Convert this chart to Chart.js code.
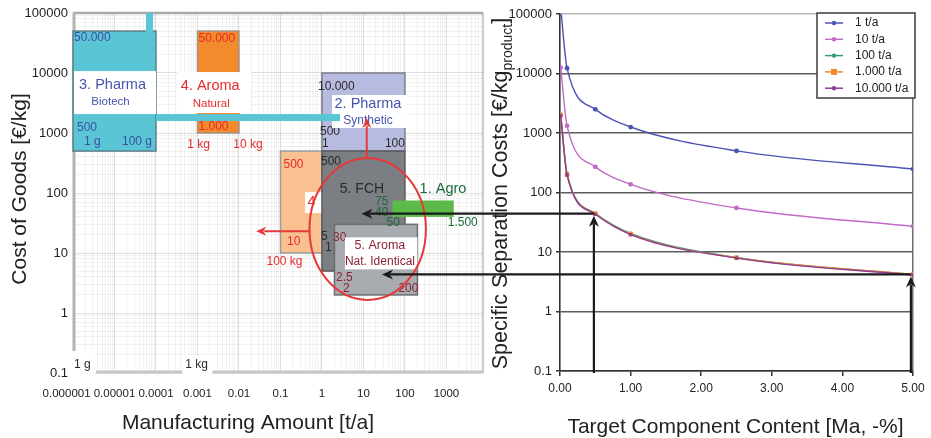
<!DOCTYPE html>
<html>
<head>
<meta charset="utf-8">
<title>Cost of Goods and Specific Separation Costs</title>
<script src="https://cdn.jsdelivr.net/npm/chart.js@4.4.1/dist/chart.umd.min.js"></script>
<style>
  html, body { margin: 0; padding: 0; background: #ffffff; }
  #stage { position: relative; width: 931px; height: 438px; overflow: hidden; }
  #stage canvas { position: absolute; left: 0; top: 0; }
</style>
</head>
<body>
<div id="stage">
  <canvas id="costOfGoods" width="931" height="438"></canvas>
  <canvas id="separation" width="931" height="438"></canvas>
</div>
<script>
// ---------- Left panel: market segments (cost of goods vs. manufacturing amount) ----------
const amountTicks = [1e-6, 1e-5, 1e-4, 1e-3, 1e-2, 1e-1, 1, 10, 100, 1000];
const amountTickLabels = ['0.000001', '0.00001', '0.0001', '0.001', '0.01', '0.1', '1', '10', '100', '1000'];
const costTicks = [0.1, 1, 10, 100, 1000, 10000, 100000];
const costTickLabels = ['0.1', '1', '10', '100', '1000', '10000', '100000'];

// segment order: 3. Pharma Biotech, 4. Aroma Natural, 2. Pharma Synthetic,
// 4. Aroma Natural (100 kg scale), 5. FCH, 5. Aroma Nat. Identical, 1. Agro
const segmentAmountMin = [1e-6, 1e-3, 1, 0.1, 1, 2, 50];
const segmentAmountMax = [1e-4, 1e-2, 100, 1, 100, 200, 1500];
const segmentCostMin = [500, 1000, 500, 10, 5, 2, 40];
const segmentCostMax = [50000, 50000, 10000, 500, 500, 30, 75];

// window of interest around FCH and the two shifts drawn out of it
const focusAmount = [0.5, 320];
const focusCost = [1.65, 380];
const upShiftAmount = [12, 12];
const upShiftCost = [380, 1780];
const leftShiftAmount = [0.52, 0.026];
const leftShiftCost = [23, 23];

// ---------- Right panel: specific separation costs vs. target component content ----------
const contentTicks = [0, 1, 2, 3, 4, 5];
const contentPct = [0.01, 0.1, 0.5, 1, 2.5, 5];
const capacityLabels = ['1 t/a', '10 t/a', '100 t/a', '1.000 t/a', '10.000 t/a'];
const costAt1 = [125000, 12300, 2500, 1260, 500, 248];
const costAt10 = [12600, 1320, 270, 137, 55, 27];
const costAt100 = [2050, 206, 44.5, 20.5, 8.1, 4.2];
const costAt1000 = [2000, 200, 44, 20, 8, 4.2];
const costAt10000 = [1950, 196, 43, 19.6, 7.9, 4.1];

// read-off lines from the cost curves into the segment map
const readContent = [0.48, 4.97];
const readCost = [44, 4.2];
const readAmount = [9, 28];

const FONT = '"Liberation Sans", Arial, Helvetica, sans-serif';
Chart.defaults.font.family = FONT;
Chart.defaults.color = '#222';

function logGrid(lo, hi) {
  const out = [];
  for (let e = Math.floor(Math.log10(lo)); e <= Math.ceil(Math.log10(hi)); e++) {
    for (let m = 1; m <= 9; m++) {
      const v = Number((m * Math.pow(10, e)).toPrecision(6));
      if (v >= lo * 0.9999 && v <= hi * 1.0001) out.push(v);
    }
  }
  return out;
}
const isDecade = v => Math.abs(Math.log10(v) - Math.round(Math.log10(v))) < 1e-6;
const labelFor = (ticks, labels, v) => {
  const i = ticks.findIndex(t => Math.abs(t - v) <= t * 1e-6);
  return i < 0 ? '' : labels[i];
};

function text(ctx, s, x, y, size, color, align, baseline) {
  ctx.font = size + 'px ' + FONT;
  ctx.fillStyle = color;
  ctx.textAlign = align || 'left';
  ctx.textBaseline = baseline || 'middle';
  ctx.fillText(s, x, y);
}
function fillRect(ctx, x, y, w, h, fill, stroke, lw) {
  ctx.fillStyle = fill;
  ctx.fillRect(x, y, w, h);
  if (stroke) {
    ctx.strokeStyle = stroke;
    ctx.lineWidth = lw || 1.5;
    ctx.strokeRect(x, y, w, h);
  }
}
function segLine(ctx, x1, y1, x2, y2, color, lw) {
  ctx.beginPath();
  ctx.moveTo(x1, y1);
  ctx.lineTo(x2, y2);
  ctx.strokeStyle = color;
  ctx.lineWidth = lw;
  ctx.stroke();
}
// arrow head with its tip at (x, y); dir: 'left' or 'up'
function head(ctx, x, y, dir, color, len, half) {
  ctx.beginPath();
  if (dir === 'left') {
    ctx.moveTo(x, y); ctx.lineTo(x + len, y - half); ctx.lineTo(x + len * 0.7, y); ctx.lineTo(x + len, y + half);
  } else {
    ctx.moveTo(x, y); ctx.lineTo(x - half, y + len); ctx.lineTo(x, y + len * 0.7); ctx.lineTo(x + half, y + len);
  }
  ctx.closePath();
  ctx.fillStyle = color;
  ctx.fill();
}

const BLUE_T = '#3f4fa6', RED_T = '#e8292b', DARK_T = '#2a2a2a', WINE_T = '#8a2234', GREEN_T = '#1c6a3a';

const segmentsPlugin = {
  id: 'segments',
  afterDraw(chart) {
    const { ctx, chartArea: ca, scales: { x, y } } = chart;
    const rect = i => ({
      l: x.getPixelForValue(segmentAmountMin[i]),
      r: x.getPixelForValue(segmentAmountMax[i]),
      t: y.getPixelForValue(segmentCostMax[i]),
      b: y.getPixelForValue(segmentCostMin[i])
    });
    const box = (R, fill, stroke) => fillRect(ctx, R.l, R.t, R.r - R.l, R.b - R.t, fill, stroke, 1.5);
    ctx.save();

    // frame of the segment map
    segLine(ctx, ca.left, ca.top, ca.right, ca.top, '#a9a9a9', 2.5);
    segLine(ctx, ca.right, ca.top, ca.right, ca.bottom, '#9a9a9a', 1);
    segLine(ctx, ca.left + 1, ca.top, ca.left + 1, ca.bottom - 22, '#b3b3b3', 3);
    const x1g = x.getPixelForValue(1e-6), x1kg = x.getPixelForValue(1e-3);
    segLine(ctx, x1g + 23, ca.bottom - 1, x1kg - 15, ca.bottom - 1, '#c6c6c6', 3);
    segLine(ctx, x1kg + 15, ca.bottom - 1, ca.right, ca.bottom - 1, '#c6c6c6', 3);
    fillRect(ctx, x1g - 5, ca.bottom - 22, 27, 28, '#ffffff');
    fillRect(ctx, x1kg - 15, ca.bottom - 18, 29, 24, '#ffffff');
    text(ctx, '1 g', x1g + 1, ca.bottom - 8, 12, DARK_T);
    text(ctx, '1 kg', x1kg - 1, ca.bottom - 8, 12, DARK_T, 'center');

    // 2. Pharma Synthetic
    const B2 = rect(2);
    box(B2, '#b8bbe0', '#7d7e86');
    text(ctx, '10.000', B2.l - 4, B2.t + 14, 12, DARK_T);
    text(ctx, '500', B2.l - 2, B2.b - 19, 12, DARK_T);
    text(ctx, '1', B2.l, B2.b - 7, 12, DARK_T);
    text(ctx, '100', B2.r, B2.b - 7, 12, DARK_T, 'right');

    // 3. Pharma Biotech
    const B0 = rect(0);
    box(B0, '#59c5d5', '#5d7f87');
    fillRect(ctx, B0.r - 10, ca.top, 7, B0.t - ca.top + 1, '#59c5d5');
    text(ctx, '50.000', B0.l + 1, B0.t + 7, 12, BLUE_T);
    text(ctx, '500', B0.l + 4, B0.b - 23, 12, BLUE_T);
    text(ctx, '1 g', B0.l + 11, B0.b - 9, 12, BLUE_T);
    text(ctx, '100 g', B0.r - 4, B0.b - 9, 12, BLUE_T, 'right');

    // 4. Aroma Natural
    const B1 = rect(1);
    box(B1, '#f28b2b', '#a29287');
    text(ctx, '50.000', B1.l + 1, B1.t + 8, 12, RED_T);
    text(ctx, '1.000', B1.l + 1, B1.b - 6, 12, RED_T);
    text(ctx, '1 kg', B1.l + 1, B1.b + 12, 12, RED_T, 'center');
    text(ctx, '10 kg', B1.r + 9, B1.b + 12, 12, RED_T, 'center');

    // name plates
    fillRect(ctx, B0.l + 1, B0.t + 40, B0.r - B0.l - 1, 43, '#ffffff');
    text(ctx, '3. Pharma', (B0.l + B0.r) / 2 - 2, B0.t + 54, 14.5, '#4654ae', 'center');
    text(ctx, 'Biotech', (B0.l + B0.r) / 2 - 4, B0.t + 71, 11.5, '#4654ae', 'center');
    fillRect(ctx, B1.l - 20, B1.t + 41, B1.r - B1.l + 32, 41, '#ffffff');
    text(ctx, '4. Aroma', (B1.l + B1.r) / 2 - 8, B1.t + 55, 14.5, RED_T, 'center');
    text(ctx, 'Natural', (B1.l + B1.r) / 2 - 7, B1.t + 73, 11.5, RED_T, 'center');
    fillRect(ctx, B2.l + 10, B2.t + 22, B2.r - B2.l - 8, 33, '#ffffff');
    // biotech link bar
    fillRect(ctx, B0.r, B0.t + 83, B2.l + 18 - B0.r, 7, '#59c5d5');
    text(ctx, '2. Pharma', (B2.l + B2.r) / 2 + 4.5, B2.t + 31, 14.5, '#4654ae', 'center');
    text(ctx, 'Synthetic', (B2.l + B2.r) / 2 + 4.5, B2.t + 48, 12, '#4654ae', 'center');

    // 4. Aroma Natural at 100 kg scale
    const B3 = rect(3);
    box(B3, '#f8c18f', '#9b9b9b');
    text(ctx, '500', B3.l + 3, B3.t + 14, 12, RED_T);
    fillRect(ctx, B3.l + 24.5, B3.t + 41, 22, 21, '#ffffff');
    text(ctx, '4', B3.l + 27, B3.t + 51, 14.5, RED_T);
    text(ctx, '10', B3.l + 6.5, B3.b - 11, 12, RED_T);
    text(ctx, '100 kg', B3.l + 4, B3.b + 9, 12, RED_T, 'center');

    // 5. FCH
    const B4 = rect(4);
    box(B4, '#7b7e82', '#5a5c5f');
    text(ctx, '500', B4.l - 1, B4.t + 11, 12, DARK_T);
    text(ctx, '5. FCH', (B4.l + B4.r) / 2 - 1.5, B4.t + 38, 14, DARK_T, 'center');
    text(ctx, '5', B4.l - 1, B4.t + 86, 12, DARK_T);
    text(ctx, '1', B4.l + 3, B4.t + 97, 12, DARK_T);

    // 5. Aroma Nat. Identical
    const B5 = rect(5);
    box(B5, '#a8abaf', '#6b6d70');
    text(ctx, '30', B5.l - 1.5, B5.t + 13, 12, WINE_T);
    fillRect(ctx, B5.l + 10.5, B5.t + 13, B5.r - B5.l - 10.5, 32, '#ffffff');
    text(ctx, '5. Aroma', (B5.l + B5.r) / 2 + 4, B5.t + 21, 12.5, WINE_T, 'center');
    text(ctx, 'Nat. Identical', (B5.l + B5.r) / 2 + 4, B5.t + 37, 12, WINE_T, 'center');
    text(ctx, '2.5', B5.l + 1.5, B5.b - 17, 12, WINE_T);
    text(ctx, '2', B5.l + 8.5, B5.b - 6, 12, WINE_T);
    text(ctx, '200', B5.r + 1, B5.b - 6, 12, WINE_T, 'right');

    // 1. Agro
    const B6 = rect(6);
    box(B6, '#5cba48');
    text(ctx, '1. Agro', B6.l + 50.5, B6.t - 11.5, 14.5, GREEN_T, 'center');
    text(ctx, '75', B6.l - 17.5, B6.t + 1, 12, GREEN_T);
    text(ctx, '40', B6.l - 17.5, B6.b - 4, 12, GREEN_T);
    text(ctx, '50', B6.l - 6, B6.b + 6, 12, GREEN_T);
    text(ctx, '1.500', B6.r + 9, B6.b + 6, 12, GREEN_T, 'center');

    // focus ellipse and shift arrows
    const el = x.getPixelForValue(focusAmount[0]), er = x.getPixelForValue(focusAmount[1]);
    const et = y.getPixelForValue(focusCost[1]), eb = y.getPixelForValue(focusCost[0]);
    ctx.beginPath();
    ctx.ellipse((el + er) / 2, (et + eb) / 2, (er - el) / 2, (eb - et) / 2, 0, 0, Math.PI * 2);
    ctx.strokeStyle = '#e6383a';
    ctx.lineWidth = 2;
    ctx.stroke();
    const ux = x.getPixelForValue(upShiftAmount[0]);
    const uy0 = y.getPixelForValue(upShiftCost[0]), uy1 = y.getPixelForValue(upShiftCost[1]);
    segLine(ctx, ux, uy0, ux, uy1 + 8, '#e6383a', 2);
    head(ctx, ux, uy1, 'up', '#e6383a', 10, 4.5);
    const lx0 = x.getPixelForValue(leftShiftAmount[0]), lx1 = x.getPixelForValue(leftShiftAmount[1]);
    const ly = y.getPixelForValue(leftShiftCost[0]);
    segLine(ctx, lx0, ly, lx1 + 8, ly, '#e6383a', 2);
    head(ctx, lx1, ly, 'left', '#e6383a', 10, 4.5);

    // axis titles
    text(ctx, 'Manufacturing Amount [t/a]', 248, 429, 21, '#222', 'center', 'alphabetic');
    ctx.save();
    ctx.translate(18, 189);
    ctx.rotate(-Math.PI / 2);
    text(ctx, 'Cost of Goods [€/kg]', 0, 7.5, 21, '#222', 'center', 'alphabetic');
    ctx.restore();

    ctx.restore();
  }
};

const gridTone = c => (c.tick && isDecade(c.tick.value)) ? 'rgba(0,0,0,0.12)' : 'rgba(0,0,0,0.05)';

const leftChart = new Chart(document.getElementById('costOfGoods'), {
  type: 'scatter',
  data: { datasets: [] },
  options: {
    responsive: false,
    animation: false,
    devicePixelRatio: 1,
    layout: { padding: { left: 0, top: 13, right: 448, bottom: 0 } },
    plugins: { legend: { display: false }, tooltip: { enabled: false } },
    scales: {
      x: {
        type: 'logarithmic',
        min: 1e-6,
        max: 7600,
        afterBuildTicks: s => { s.ticks = logGrid(1e-6, 7600).map(v => ({ value: v })); },
        afterFit: s => { s.height = 65; },
        border: { display: false },
        grid: { drawTicks: false, lineWidth: 1, color: gridTone },
        ticks: {
          autoSkip: false, maxRotation: 0, minRotation: 0, padding: 14,
          font: { size: 11.5 }, color: '#222',
          // the first label sits a little left of its tick, clear of its neighbour
          callback: v => {
            const s = labelFor(amountTicks, amountTickLabels, v);
            return Math.abs(v - amountTicks[0]) < 1e-12 ? s + '\u2007\u2007' : s;
          }
        }
      },
      y: {
        type: 'logarithmic',
        min: 0.1,
        max: 100000,
        afterBuildTicks: s => { s.ticks = logGrid(0.1, 100000).map(v => ({ value: v })); },
        afterFit: s => { s.width = 73; },
        border: { display: false },
        grid: { drawTicks: false, lineWidth: 1, color: gridTone },
        ticks: {
          autoSkip: false, padding: 5,
          font: { size: 13 }, color: '#222',
          callback: v => labelFor(costTicks, costTickLabels, v)
        }
      }
    }
  },
  plugins: [segmentsPlugin]
});

// ---------- right panel ----------
function series(label, values, color, style, radius, order) {
  return {
    label,
    data: contentPct.map((c, i) => ({ x: c, y: values[i] })),
    borderColor: color,
    backgroundColor: color,
    pointBackgroundColor: color,
    pointBorderColor: color,
    pointBorderWidth: 0,
    pointStyle: style,
    pointRadius: radius,
    borderWidth: 1.4,
    cubicInterpolationMode: 'monotone',
    fill: false,
    order
  };
}

const separationDecor = {
  id: 'separationDecor',
  afterDraw(chart) {
    const { ctx, scales: { x, y } } = chart;
    ctx.save();

    // legend
    fillRect(ctx, 817, 13, 98, 85, '#ffffff', '#3d3d3d', 1.5);
    chart.data.datasets.forEach((ds, i) => {
      const yy = 23 + i * 16.3;
      segLine(ctx, 825, yy, 843, yy, ds.borderColor, 1.5);
      ctx.fillStyle = ds.borderColor;
      if (ds.pointStyle === 'rect') {
        ctx.fillRect(834 - 3, yy - 3, 6, 6);
      } else {
        ctx.beginPath();
        ctx.arc(834, yy, 2.2, 0, Math.PI * 2);
        ctx.fill();
      }
      text(ctx, ds.label, 855, yy, 12, '#222');
    });

    // read-off arrows into the segment map
    const lx = leftChart.scales.x;
    const base = y.getPixelForValue(costTicks[0]) + 2;
    readContent.forEach((c, i) => {
      const px = x.getPixelForValue(c);
      const py = y.getPixelForValue(readCost[i]);
      const tip = lx.getPixelForValue(readAmount[i]);
      segLine(ctx, px, py, tip + 8, py, '#1b1b1b', 2.2);
      head(ctx, tip, py, 'left', '#1b1b1b', 11, 5);
      segLine(ctx, px, base, px, py + 10, '#1b1b1b', 2.2);
      head(ctx, px, py + 2, 'up', '#1b1b1b', 11, 5);
    });

    // axis titles
    text(ctx, 'Target Component Content [Ma, -%]', 735.5, 433, 21, '#222', 'center', 'alphabetic');
    ctx.save();
    ctx.translate(499, 193.5);
    ctx.rotate(-Math.PI / 2);
    const main = 'Specific Separation Costs [€/kg';
    ctx.font = '21.5px ' + FONT;
    const w1 = ctx.measureText(main).width;
    const w3 = ctx.measureText(']').width;
    ctx.font = '14px ' + FONT;
    const w2 = ctx.measureText('product').width;
    let x0 = -(w1 + w2 + w3) / 2;
    text(ctx, main, x0, 7.5, 21.5, '#222', 'left', 'alphabetic');
    text(ctx, 'product', x0 + w1, 12.5, 14, '#222', 'left', 'alphabetic');
    text(ctx, ']', x0 + w1 + w2, 7.5, 21.5, '#222', 'left', 'alphabetic');
    ctx.restore();

    ctx.restore();
  }
};

const rightChart = new Chart(document.getElementById('separation'), {
  type: 'line',
  data: {
    datasets: [
      series(capacityLabels[0], costAt1, '#4b52b3', 'circle', 2.4, 0),
      series(capacityLabels[1], costAt10, '#c26ac7', 'circle', 2.4, 0),
      series(capacityLabels[2], costAt100, '#2f9d72', 'circle', 2, 3),
      series(capacityLabels[3], costAt1000, '#f28a2e', 'rect', 3.3, 2),
      series(capacityLabels[4], costAt10000, '#8c3d99', 'circle', 1.8, 1)
    ]
  },
  options: {
    responsive: false,
    animation: false,
    devicePixelRatio: 1,
    layout: { padding: { left: 0, top: 14, right: 18, bottom: 0 } },
    plugins: { legend: { display: false }, tooltip: { enabled: false } },
    scales: {
      x: {
        type: 'linear',
        min: 0,
        max: 5,
        afterBuildTicks: s => { s.ticks = contentTicks.map(v => ({ value: v })); },
        afterFit: s => { s.height = 67; },
        border: { color: '#333', width: 1.6 },
        grid: {
          lineWidth: 1.5,
          color: c => (c.tick && c.tick.value === 5) ? '#6e6e6e' : 'rgba(0,0,0,0)',
          tickColor: '#333',
          tickLength: 5
        },
        ticks: { padding: 5, font: { size: 12 }, color: '#222', callback: v => Number(v).toFixed(2) }
      },
      y: {
        type: 'logarithmic',
        min: 0.1,
        max: 100000,
        afterBuildTicks: s => { s.ticks = costTicks.map(v => ({ value: v })); },
        afterFit: s => { s.width = 560; },
        border: { color: '#333', width: 1.6 },
        grid: {
          lineWidth: 1.5,
          color: c => (c.tick && c.tick.value === 100000) ? '#b8b8b8' : '#5c5c5c',
          tickColor: '#333',
          tickLength: 4
        },
        ticks: { padding: 4, font: { size: 13 }, color: '#222', callback: v => labelFor(costTicks, costTickLabels, v) }
      }
    }
  },
  plugins: [separationDecor]
});
</script>
</body>
</html>
